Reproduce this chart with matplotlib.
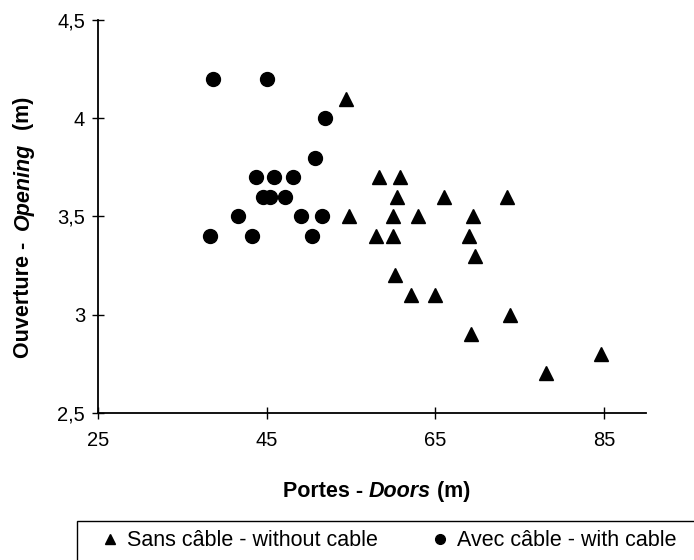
import numpy as np
import matplotlib
matplotlib.use('Agg')
import matplotlib.pyplot as plt
from matplotlib.patches import Rectangle

# data: doors (m) vs opening (m)
# without cable (triangles)
doors_nocable = [54.4, 58.3, 60.8, 60.4, 66.0, 73.5, 54.7, 60.0, 62.9, 69.5, 57.9,
                 60.0, 69.0, 69.7, 60.2, 62.1, 64.9, 73.9, 69.2, 84.7, 78.1]
open_nocable = [4.1, 3.7, 3.7, 3.6, 3.6, 3.6, 3.5, 3.5, 3.5, 3.5, 3.4,
                3.4, 3.4, 3.3, 3.2, 3.1, 3.1, 3.0, 2.9, 2.8, 2.7]

# with cable (circles)
doors_cable = [38.6, 45.0, 51.9, 50.7, 43.7, 45.9, 48.1, 44.5, 45.4, 47.1,
               41.6, 49.0, 51.6, 38.3, 43.2, 50.4]
open_cable = [4.2, 4.2, 4.0, 3.8, 3.7, 3.7, 3.7, 3.6, 3.6, 3.6,
              3.5, 3.5, 3.5, 3.4, 3.4, 3.4]

xticks = [25, 45, 65, 85]
yticks = [2.5, 3, 3.5, 4, 4.5]
label_nocable = 'Sans câble - without cable'
label_cable = 'Avec câble - with cable'

# plot settings
plt.rcParams['font.family'] = 'Liberation Sans'

W, H = 694, 560
fig = plt.figure(figsize=(W / 100, H / 100), dpi=100)
ax = fig.add_axes([98.3 / W, 1 - 412.7 / H, (646 - 98.3) / W, (412.7 - 20.2) / H])

ax.plot(doors_nocable, open_nocable, '^', color='black', markersize=10,
        linestyle='none', label=label_nocable, clip_on=False)
ax.plot(doors_cable, open_cable, 'o', color='black', markersize=10,
        linestyle='none', label=label_cable, clip_on=False)

# axes limits and ticks
ax.set_xlim(25, 90)
ax.set_ylim(2.5, 4.5)
ax.set_xticks(xticks)
ax.set_yticks(yticks)
ax.set_xticklabels([str(t) for t in xticks])
ax.set_yticklabels([('%g' % t).replace('.', ',') for t in yticks])
ax.tick_params(axis='x', direction='inout', length=9, width=1, pad=9, labelsize=14.5)
ax.tick_params(axis='y', direction='inout', length=9, width=1, pad=5, labelsize=14.5)

for side in ['top', 'right']:
    ax.spines[side].set_visible(False)
for side in ['left', 'bottom']:
    ax.spines[side].set_linewidth(1.3)

fs = 15.5
fig.canvas.draw()
r = fig.canvas.get_renderer()

# x label: pieces chained one after the other (english word in italic)
t1 = fig.text(0, 1 - 491.7 / H, 'Portes - ', ha='left', va='center',
              fontsize=fs, fontweight='bold')
t2 = fig.text(0, 0, 'Doors', fontsize=fs, fontweight='bold', fontstyle='italic')
t3 = fig.text(0, 0, ' (m)', fontsize=fs, fontweight='bold')
t2.set_va('bottom')
t3.set_va('bottom')
total = sum(t.get_window_extent(r).width for t in (t1, t2, t3))
t1.set_x((376.5 - total / 2) / W)
bb = t1.get_window_extent(r)
t2.set_position((bb.x1 / W, bb.y0 / H))
bb = t2.get_window_extent(r)
t3.set_position((bb.x1 / W, bb.y0 / H))

# y label, rotated, same way
u1 = fig.text(23.3 / W, 1 - 358 / H, 'Ouverture -  ', ha='center', va='bottom',
              rotation=90, fontsize=fs, fontweight='bold')
u2 = fig.text(0, 0, 'Opening', ha='center', va='bottom', rotation=90,
              fontsize=fs, fontweight='bold', fontstyle='italic')
u3 = fig.text(0, 0, '  (m)', ha='center', va='bottom', rotation=90,
              fontsize=fs, fontweight='bold')
bb = u1.get_window_extent(r)
u2.set_position((23.3 / W, bb.y1 / H))
bb = u2.get_window_extent(r)
u3.set_position((23.3 / W, bb.y1 / H))

# legend box runs off the bottom right of the figure
fig.patches.append(Rectangle((77 / W, -0.1), 1.0, (1 - 521 / H) + 0.1,
                             transform=fig.transFigure, fill=False,
                             edgecolor='black', linewidth=1))
handles, labels = ax.get_legend_handles_labels()
fig.legend(handles, labels, loc='center left', bbox_to_anchor=(101 / W, 1 - 541 / H),
           ncol=2, frameon=False, fontsize=15.5, markerscale=0.7, borderpad=0,
           borderaxespad=0, handlelength=0.8, handletextpad=0.4, columnspacing=2.5)

plt.savefig('out.png', dpi=100)
